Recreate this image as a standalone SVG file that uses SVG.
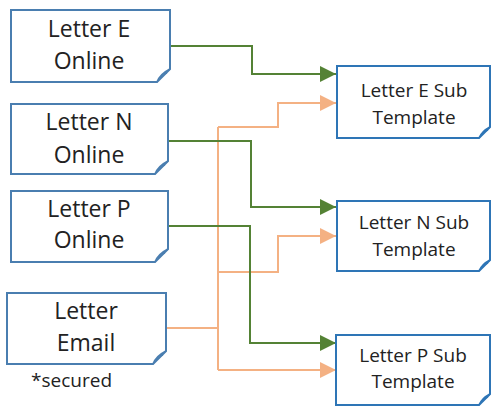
<svg xmlns="http://www.w3.org/2000/svg" width="493" height="406" viewBox="0 0 493 406">
<defs>
<style>
.box{fill:#fff;stroke-width:2}
.lb{stroke:#4A7EB0}
.rb{stroke:#2E75B6}
.fold{fill:none;stroke-width:1.5}
.t1{font-family:"Open Sans","Liberation Sans",sans-serif;font-size:23px;fill:#222;text-anchor:middle}
.t2{font-family:"Open Sans","Liberation Sans",sans-serif;font-size:19px;fill:#222;text-anchor:middle}
.g{fill:none;stroke:#548235;stroke-width:2}
.o{fill:none;stroke:#F4B183;stroke-width:2}
</style>
<marker id="ag" markerUnits="userSpaceOnUse" markerWidth="17" markerHeight="16" refX="16" refY="8" orient="auto"><path d="M0,0 L16,8 L0,16 Z" fill="#548235"/></marker>
<marker id="ao" markerUnits="userSpaceOnUse" markerWidth="17" markerHeight="16" refX="16" refY="8" orient="auto"><path d="M0,0 L16,8 L0,16 Z" fill="#F4B183"/></marker>
</defs>
<rect width="493" height="406" fill="#fff"/>
<g id="connectors">
<path class="o" d="M166,328 H218"/>
<path class="o" d="M218,127 V370"/>
<path class="o" d="M218,127 H278 V103 H336" marker-end="url(#ao)"/>
<path class="o" d="M218,272 H278 V236 H336" marker-end="url(#ao)"/>
<path class="o" d="M218,370 H336" marker-end="url(#ao)"/>
<path class="g" d="M170,46 H252 V74 H336" marker-end="url(#ag)"/>
<path class="g" d="M168,141 H251 V207 H336" marker-end="url(#ag)"/>
<path class="g" d="M168,226 H250 V343 H336" marker-end="url(#ag)"/>
</g>
<g id="letter-e-online">
<path class="box lb" d="M11,10 H170 V69 L157,82 H11 Z"/>
<path class="fold lb" d="M157,82 Q160,74 170,69 M160,78 L163,74 L167,73"/>
<text class="t1" x="89" y="37">Letter E</text>
<text class="t1" x="89" y="69">Online</text>
</g>
<g id="letter-n-online">
<path class="box lb" d="M11,104 H168 V161 L155,174 H11 Z"/>
<path class="fold lb" d="M155,174 Q158,166 168,161 M158,170 L161,166 L165,165"/>
<text class="t1" x="89" y="130">Letter N</text>
<text class="t1" x="89" y="163">Online</text>
</g>
<g id="letter-p-online">
<path class="box lb" d="M11,191 H168 V249 L155,262 H11 Z"/>
<path class="fold lb" d="M155,262 Q158,254 168,249 M158,258 L161,254 L165,253"/>
<text class="t1" x="89" y="217">Letter P</text>
<text class="t1" x="89" y="248">Online</text>
</g>
<g id="letter-email">
<path class="box lb" d="M7,293 H166 V351 L153,364 H7 Z"/>
<path class="fold lb" d="M153,364 Q156,356 166,351 M156,360 L159,356 L163,355"/>
<text class="t1" x="86" y="319">Letter</text>
<text class="t1" x="86" y="351">Email</text>
<text x="31" y="387" font-family="'Open Sans','Liberation Sans',sans-serif" font-size="19" fill="#222">*secured</text>
</g>
<g id="letter-e-sub">
<path class="box rb" d="M337,66 H490 V127 L479,138 H337 Z"/>
<path class="fold rb" d="M479,138 Q482,131 490,127 M482,134 L485,131 L488,130"/>
<text class="t2" x="414" y="97">Letter E Sub</text>
<text class="t2" x="414" y="124">Template</text>
</g>
<g id="letter-n-sub">
<path class="box rb" d="M337,201 H490 V260 L479,271 H337 Z"/>
<path class="fold rb" d="M479,271 Q482,264 490,260 M482,267 L485,264 L488,263"/>
<text class="t2" x="414" y="229">Letter N Sub</text>
<text class="t2" x="414" y="256">Template</text>
</g>
<g id="letter-p-sub">
<path class="box rb" d="M336,335 H490 V394 L479,405 H336 Z"/>
<path class="fold rb" d="M479,405 Q482,398 490,394 M482,401 L485,398 L488,397"/>
<text class="t2" x="413" y="362">Letter P Sub</text>
<text class="t2" x="413" y="388">Template</text>
</g>
</svg>
